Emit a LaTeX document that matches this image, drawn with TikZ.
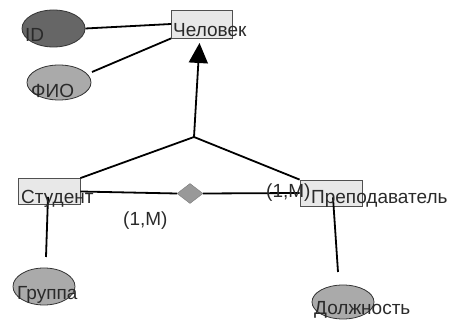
\documentclass[tikz,border=0pt]{standalone}
\usepackage{fontspec}
\setmainfont{Liberation Sans}
\usetikzlibrary{shapes.geometric,arrows.meta}
\definecolor{boxfill}{HTML}{E8E8E8}
\definecolor{boxline}{HTML}{505050}
\definecolor{darkell}{HTML}{666666}
\definecolor{lightell}{HTML}{AAAAAA}
\definecolor{diafill}{HTML}{999999}
\definecolor{txt}{HTML}{2A2A2A}
\begin{document}
\begin{tikzpicture}[x=1pt,y=-1pt,
  entity/.style={draw=boxline,fill=boxfill,line width=0.8pt,minimum width=62pt,minimum height=27pt,inner sep=0pt},
  attr/.style={ellipse,draw=black!80,line width=0.8pt,minimum width=63pt,minimum height=36pt,inner sep=0pt},
  lbl/.style={font=\fontsize{19}{19}\selectfont,text=txt,inner sep=0pt,anchor=base west},
  conn/.style={line width=1.8pt,black},
  rel/.style={diamond,draw=diafill!80!black,fill=diafill,minimum width=26pt,minimum height=20pt,inner sep=0pt,aspect=1.3}
]
\useasboundingbox (0,0) rectangle (456,320);
% entities
\node[entity,minimum width=61pt,minimum height=28pt] (chel) at (202,24) {};
\node[entity,minimum height=26pt] (stud) at (49,191.5) {};
\node[entity,minimum height=26pt] (prep) at (331,193) {};
% attributes
\node[attr,fill=darkell,minimum width=63pt,minimum height=37pt] (id) at (53.5,28.5) {};
\node[attr,fill=lightell,minimum width=64pt,minimum height=35pt] (fio) at (59,82.5) {};
\node[attr,fill=lightell,minimum width=62pt,minimum height=37pt] (grp) at (44,286.5) {};
\node[attr,fill=lightell,minimum width=62pt,minimum height=34pt] (dol) at (343,302) {};
% relationship
\node[rel] (r) at (190,193.5) {};
% connectors
\coordinate (apex) at (194,137);
\coordinate (atip) at (199.5,43);
\coordinate (fioend) at (92,72);
\coordinate (grptop) at (46,257);
\coordinate (doltop) at (338,272);
\draw[conn] (id.east) -- (chel.west);
\draw[conn] (fioend) -- (chel.south west);
\draw[conn,-{Triangle[length=20pt,width=19pt]}] (apex) -- (atip);
\draw[conn] (apex) -- (stud.north east);
\draw[conn] (apex) -- (prep.north west);
\draw[conn] (stud.east) -- (r.west);
\draw[conn] (r.east) -- (prep.west);
\draw[conn] ([xshift=-1pt,yshift=8pt]stud.south) -- (grptop);
\draw[conn] ([xshift=2pt,yshift=9pt]prep.south) -- (doltop);
% texts
\node[lbl] (tchel) at (173,36.5) {Человек};
\node[lbl] (tstud) at (21,203.5) {Студент};
\node[lbl] (tprep) at (311,204) {Преподаватель};
\node[lbl] (tid) at (25,41.5) {ID};
\node[lbl] (tfio) at (31,98) {ФИО};
\node[lbl] (tgrp) at (17,299.5) {Группа};
\node[lbl] (tdol) at (314,315) {Должность};
\node[lbl] (m1) at (266,198) {(1,M)};
\node[lbl] (m2) at (123,226) {(1,M)};
\end{tikzpicture}
\end{document}
